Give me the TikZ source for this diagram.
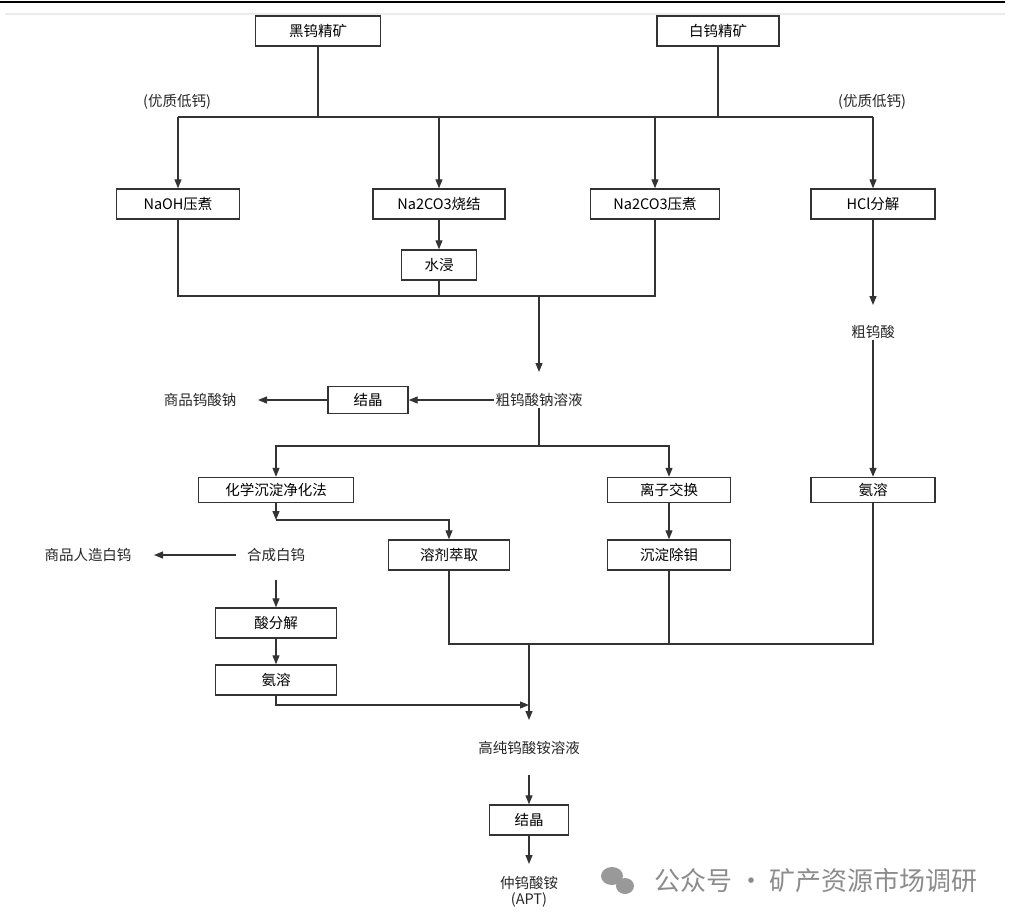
\documentclass[tikz,border=0pt]{standalone}
\usepackage{fontspec}
\setmainfont{Noto Sans CJK SC}
\usetikzlibrary{arrows.meta}
\tikzset{
  box/.style={draw=black!80,line width=1.4pt,minimum height=30pt,inner sep=0pt,font=\fontsize{14.5}{16}\selectfont},
  lbl/.style={inner sep=1pt,font=\fontsize{14.5}{16}\selectfont,text=black!85},
  flow/.style={draw=black!80,line width=1.2pt},
  arr/.style={flow,-{Triangle[length=9pt,width=7pt]}}
}
\begin{document}
\begin{tikzpicture}[x=1pt,y=-1pt]
  \useasboundingbox (0,0) rectangle (1023,922);
  % Frame lines at the top
  \draw[line width=2pt] (0,2) -- (1005,2);
  \draw[black!8,line width=2pt] (5,14) -- (1005,14);

  % Ores
  \node[box,minimum width=125pt] (hei) at (318,31) {黑钨精矿};
  \node[box,minimum width=122pt] (bai) at (718,31) {白钨精矿};
  \coordinate (hj) at (318,117);
  \coordinate (bj) at (718,117);
  \coordinate (bl) at (178,117);
  \coordinate (br) at (873,117);
  \draw[flow] (hei) -- (hj);
  \draw[flow] (bai) -- (bj);
  \draw[flow] (bl) -- (br);
  \node[lbl] (yz1) at (177,102) {(优质低钙)};
  \node[lbl] (yz2) at (872,102) {(优质低钙)};

  % Decomposition
  \node[box,minimum width=123pt] (naoh) at (178,204) {NaOH压煮};
  \node[box,minimum width=132pt] (shao) at (439,204) {Na2CO3烧结};
  \node[box,minimum width=129pt] (yazhu) at (655,204) {Na2CO3压煮};
  \node[box,minimum width=124pt] (hcl) at (873,204) {HCl分解};
  \node[box,minimum width=75pt] (shui) at (439,265) {水浸};
  \draw[arr] (bl) -- (naoh);
  \draw[arr] (bl -| shao) -- (shao);
  \draw[arr] (bl -| yazhu) -- (yazhu);
  \draw[arr] (br) -- (hcl);
  \draw[arr] (shao) -- (shui);

  % Sodium tungstate solution
  \coordinate (c1l) at (178,296);
  \coordinate (c1r) at (655,296);
  \coordinate (c1m) at (539,296);
  \draw[flow] (naoh) -- (c1l) -- (c1r) -- (yazhu);
  \draw[flow] (shui) -- (shui |- c1l);
  \node[lbl] (cuna) at (539,400) {粗钨酸钠溶液};
  \draw[arr] (c1m) -- (539,372);
  \node[box,minimum width=80pt,minimum height=27pt] (jj1) at (368,400) {结晶};
  \node[lbl] (spna) at (200,400) {商品钨酸钠};
  \draw[arr] (cuna.west) -- (jj1);
  \draw[arr] (jj1) -- (258,400);

  % Crude tungstic acid
  \coordinate (hcle) at (873,305);
  \draw[arr] (hcl) -- (hcle);
  \node[lbl] (cuw) at (873,332) {粗钨酸};
  \node[box,minimum width=124pt,minimum height=25pt] (anr) at (873,490) {氨溶};
  \draw[arr] (cuw.south) -- (anr);

  % Purification
  \node[box,minimum width=155pt,minimum height=25pt] (huax) at (276,490) {化学沉淀净化法};
  \node[box,minimum width=123pt,minimum height=25pt] (lizi) at (669,490) {离子交换};
  \coordinate (c2m) at (539,446);
  \draw[flow] (cuna.south) -- (c2m);
  \draw[arr] (c2m) -- (c2m -| huax) -- (huax);
  \draw[arr] (c2m) -- (c2m -| lizi) -- (lizi);
  \node[box,minimum width=121pt] (rj) at (449,555) {溶剂萃取};
  \node[box,minimum width=123pt] (cd) at (669,555) {沉淀除钼};
  \coordinate (hxj) at (276,520);
  \draw[arr] (huax) -- (hxj);
  \draw[arr] (hxj) -- (hxj -| rj) -- (rj);
  \draw[arr] (lizi) -- (cd);

  % Synthetic scheelite
  \node[lbl] (hcb) at (276,555) {合成白钨};
  \node[lbl] (sprz) at (88,555) {商品人造白钨};
  \draw[arr] (hcb.west) ++(-10,0) coordinate (hcw) -- (154,555);
  \node[box,minimum width=121pt] (suan) at (276,623) {酸分解};
  \node[box,minimum width=121pt] (anl) at (276,680) {氨溶};
  \draw[arr] (276,580) -- (suan);
  \draw[arr] (suan) -- (anl);

  % High purity ammonium tungstate solution
  \coordinate (c3l) at (449,644);
  \coordinate (c3r) at (873,644);
  \coordinate (c3m) at (529,644);
  \draw[flow] (rj) -- (c3l) -- (c3r) -- (anr);
  \draw[flow] (cd) -- (cd |- c3l);
  \node[lbl] (gc) at (529,748) {高纯钨酸铵溶液};
  \draw[arr] (c3m) -- (529,720);
  \draw[arr] (anl) -- (276,705) -- (529,705);
  \node[box,minimum width=79pt] (jj2) at (529,820) {结晶};
  \draw[arr] (529,775) -- (jj2);
  \node[lbl,align=center] (apt) at (529,892) {仲钨酸铵\\(APT)};
  \draw[arr] (jj2) -- (529,864);

  % Watermark
  \node[font=\fontsize{26}{28}\selectfont,text=black!45] (wm) at (816,881) {公众号 · 矿产资源市场调研};
  \fill[black!40] (612,876) ellipse (11 and 9);
  \fill[black!40] (625,886) ellipse (9 and 8);
\end{tikzpicture}
\end{document}
